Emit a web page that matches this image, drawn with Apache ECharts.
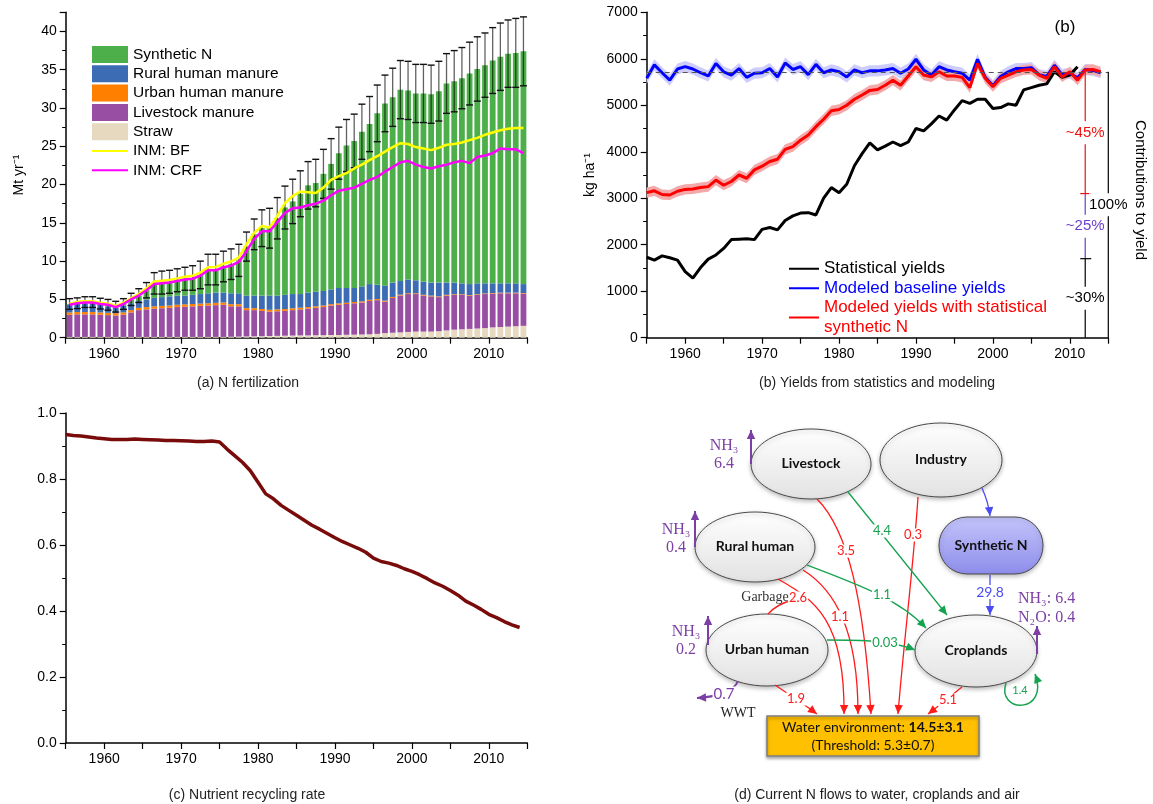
<!DOCTYPE html>
<html>
<head>
<meta charset="utf-8">
<script src="https://cdn.jsdelivr.net/npm/echarts@6/dist/echarts.min.js"></script>
<style>
html, body { margin: 0; padding: 0; background: #fff; }
#chart { width: 1153px; height: 804px; }
</style>
</head>
<body>
<div id="chart"></div>
<script>
// ---- data ----
const years = [];
for (let y = 1955; y <= 2014; y++) years.push(String(y));
const yieldYears = years.concat(['2015']);

// (a) N fertilization, Mt/yr, stacked from the bottom
const straw = [0.1,0.1,0.1,0.1,0.1,0.1,0.1,0.1,0.1,0.1,
  0.1,0.1,0.1,0.1,0.1,0.1,0.1,0.1,0.1,0.1,
  0.1,0.12,0.14,0.16,0.18,0.2,0.22,0.24,0.26,0.28,
  0.3,0.3,0.32,0.33,0.35,0.35,0.38,0.4,0.42,0.45,
  0.5,0.6,0.65,0.7,0.75,0.8,0.8,0.8,0.85,0.95,
  1.05,1.1,1.15,1.2,1.25,1.35,1.4,1.45,1.5,1.55];
const livestock = [2.9,2.95,2.95,2.95,2.9,2.85,2.8,2.9,3.2,3.5,
  3.6,3.7,3.75,3.8,3.9,3.95,4.0,4.05,4.1,4.15,
  4.2,3.98,3.96,3.44,3.42,3.3,3.18,3.21,3.24,3.32,
  3.4,3.5,3.58,3.67,3.85,3.95,4.02,4.1,4.18,4.35,
  4.4,4.1,4.55,4.8,4.95,4.9,4.7,4.6,4.45,4.55,
  4.55,4.5,4.35,4.4,4.45,4.4,4.4,4.35,4.3,4.2];
const urban = [0.3,0.3,0.3,0.3,0.3,0.3,0.3,0.3,0.3,0.3,
  0.3,0.3,0.3,0.3,0.3,0.3,0.3,0.3,0.3,0.3,
  0.3,0.28,0.28,0.26,0.26,0.25,0.25,0.25,0.24,0.24,
  0.22,0.2,0.2,0.2,0.18,0.18,0.16,0.16,0.15,0.15,
  0.14,0.14,0.12,0.12,0.1,0.1,0.1,0.1,0.1,0.1,
  0.08,0.08,0.08,0.08,0.08,0.08,0.08,0.08,0.08,0.08];
const rural = [1.0,1.05,1.15,1.15,1.0,0.85,0.7,0.9,0.9,0.9,
  1.0,1.1,1.15,1.2,1.2,1.15,1.2,1.25,1.3,1.35,
  1.3,1.42,1.42,1.64,1.64,1.75,1.85,1.8,1.86,1.86,
  1.78,1.9,1.9,1.9,1.92,2.02,1.94,1.84,1.95,2.05,
  1.86,1.96,1.88,1.78,1.8,1.7,1.7,1.7,1.8,1.6,
  1.52,1.42,1.42,1.42,1.32,1.27,1.22,1.22,1.22,1.17];
const synthetic = [0.1,0.1,0.15,0.15,0.15,0.2,0.15,0.2,0.5,0.7,
  1.2,1.9,1.9,1.9,2.0,2.2,2.2,2.5,3.1,3.0,
  3.4,3.8,4.3,6.4,8.0,8.8,8.8,10.1,11.4,12.1,
  13.1,14.0,14.2,15.3,16.4,17.6,18.6,19.2,20.2,20.9,
  22.4,23.8,24.2,25.0,24.7,24.4,24.6,24.6,25.0,26.0,
  26.3,26.8,27.5,28.0,28.5,29.1,29.6,30.0,30.1,30.4];
const fertErr = [0.7,0.7,0.7,0.7,0.7,0.7,0.7,0.7,0.8,0.9,
  1.0,1.4,1.5,1.5,1.5,1.5,1.6,1.8,2.0,2.0,
  2.0,2.0,2.1,1.9,2.0,2.4,2.6,2.7,2.8,2.9,
  3.0,3.1,3.1,3.2,3.3,3.4,3.4,3.5,3.6,3.6,
  3.7,3.7,3.8,3.8,3.8,3.8,3.8,3.8,3.9,3.9,
  4.0,4.0,4.1,4.2,4.2,4.3,4.4,4.4,4.5,4.5];
const inmBF = [4.45,4.65,4.75,4.75,4.55,4.45,4.15,4.55,5.15,5.7,
  6.45,7.35,7.45,7.55,7.75,7.95,8.1,8.5,9.2,9.25,
  9.65,9.95,10.5,12.2,13.7,14.6,14.4,15.9,17.6,18.5,
  19.1,19.0,18.9,19.6,20.6,21.1,21.5,22.1,22.6,23.2,
  23.7,24.3,24.9,25.4,25.3,24.9,24.7,24.5,24.8,25.2,
  25.3,25.5,25.8,26.1,26.5,26.8,27.1,27.3,27.4,27.4];
const inmCRF = [4.3,4.5,4.6,4.6,4.4,4.3,4.0,4.4,5.0,5.5,
  6.2,7.0,7.1,7.2,7.4,7.6,7.7,8.1,8.8,8.8,
  9.2,9.4,9.9,11.3,12.9,13.9,13.9,15.1,16.3,16.9,
  17.0,17.3,17.5,17.9,18.6,19.2,19.4,19.6,20.1,20.6,
  21.0,21.7,22.3,22.9,23.1,22.6,22.3,22.1,22.4,22.6,
  22.9,23.1,22.8,23.6,23.8,24.1,24.7,24.6,24.6,24.1];

// (b) yields, kg/ha
const statYield = [1730,1670,1760,1720,1670,1420,1280,1510,1690,1780,
  1920,2110,2120,2130,2110,2330,2370,2320,2520,2620,
  2680,2690,2640,3000,3230,3120,3300,3700,3960,4190,
  4040,4120,4210,4130,4210,4500,4450,4600,4770,4680,
  4900,5100,5040,5130,5130,4930,4950,5030,5000,5330,
  5380,5430,5460,5720,5600,5650,5830];
const baseYield = [5580,5870,5700,5540,5780,5830,5780,5700,5630,5900,
  5720,5650,5790,5600,5690,5700,5790,5610,5910,5770,
  5830,5660,5880,5700,5760,5720,5610,5760,5700,5740,
  5740,5760,5790,5690,5780,5990,5760,5650,5830,5760,
  5720,5690,5540,5990,5600,5420,5620,5720,5790,5790,
  5810,5660,5620,5860,5660,5690,5590,5770,5750,5700];
const nYield = [3120,3160,3080,3070,3150,3190,3200,3230,3250,3390,
  3280,3360,3500,3430,3610,3690,3790,3840,4050,4110,
  4250,4360,4540,4700,4880,4910,5000,5130,5220,5320,
  5340,5430,5540,5430,5630,5830,5650,5610,5720,5630,
  5630,5600,5380,5900,5580,5400,5580,5650,5720,5760,
  5770,5650,5580,5830,5610,5720,5540,5760,5770,5720];
const baseBand = 120;   // half width of the shaded range
const nBand = 110;
const potentialYield = 5720;
const contribSplits = [5720, 3100, 1700, 0];
const contribLabels = ['~45%', '~25%', '~30%'];
const contribYear = 2012;
const totalYear = 2015;

// (c) nutrient recycling rate
const recycling = [0.935,0.932,0.93,0.927,0.924,0.922,0.92,0.92,0.92,0.921,
  0.92,0.919,0.918,0.917,0.917,0.916,0.915,0.914,0.914,0.915,
  0.912,0.89,0.87,0.85,0.825,0.79,0.755,0.74,0.72,0.705,
  0.69,0.675,0.66,0.648,0.635,0.622,0.61,0.6,0.59,0.578,
  0.56,0.55,0.545,0.538,0.528,0.52,0.51,0.498,0.485,0.475,
  0.462,0.448,0.43,0.418,0.405,0.39,0.38,0.368,0.358,0.35];

// (d) N flows, Mt
const waterFlows = [3.5, 0.3, 2.6, 1.1, 1.9, 5.1]; // livestock, industry, garbage, rural, urban, croplands
const cropFlows = [4.4, 1.1, 0.03, 1.4];           // livestock, rural, urban, croplands recycling
const syntheticFlow = 29.8;
const nh3Loss = [6.4, 0.4, 0.2, 6.4];              // livestock, rural, urban, croplands
const n2oLoss = 0.4;
const wwtFlow = 0.7;
const waterLoad = '14.5±3.1';
const waterThreshold = '5.3±0.7';

// ---- chart ----
const FONT = "'Liberation Sans', Arial, sans-serif";
const SERIF = "'Liberation Serif', 'Times New Roman', serif";
const CAL = "Lato, 'Liberation Sans', sans-serif";

const total = years.map((y, i) => straw[i] + livestock[i] + urban[i] + rural[i] + synthetic[i]);

const axisLine = { lineStyle: { color: '#000', width: 1.5 } };
const axisTick = { length: 6, lineStyle: { color: '#000', width: 1.2 } };
const minorTick = { show: true, splitNumber: 2, length: 3.5, lineStyle: { color: '#000', width: 1 } };
const label14 = { color: '#000', fontSize: 14, fontFamily: FONT, margin: 9 };
const yearAxis = (grid) => ({
  type: 'value', gridIndex: grid, min: 1955, max: 2015, interval: 5,
  axisLine: axisLine, axisTick: axisTick, splitLine: { show: false },
  axisLabel: Object.assign({}, label14, { formatter: v => (v % 10 === 0 ? String(v) : '') })
});
// hidden category axes carry the stacked bars and bands
const hiddenCat = (grid, data, gap) => ({ type: 'category', gridIndex: grid, data: data, boundaryGap: gap, show: false });

const barSeries = (name, arr, color) => ({
  name: name, type: 'bar', xAxisIndex: 3, yAxisIndex: 0, stack: 'fert', barWidth: 5.8,
  itemStyle: { color: color }, data: arr, z: 2
});

const band = (vals, half, color) => [
  { type: 'line', xAxisIndex: 4, yAxisIndex: 1, stack: color, symbol: 'none', silent: true, z: 1,
    lineStyle: { opacity: 0 }, data: vals.map(v => v - half) },
  { type: 'line', xAxisIndex: 4, yAxisIndex: 1, stack: color, symbol: 'none', silent: true, z: 1,
    lineStyle: { opacity: 0 }, areaStyle: { color: color, opacity: 1 }, data: vals.map(() => 2 * half) }
];

const RED = '#ff1a1a', GREEN = '#16a34f', BLUE = '#4b4bf2', PURPLE = '#7b3fa6';

// ---- diagram (d) helpers ----
function arrowHead(x, y, fx, fy, color, len, half) {
  len = len || 9; half = half || 4.2;
  const dx = x - fx, dy = y - fy, d = Math.hypot(dx, dy) || 1;
  const ux = dx / d, uy = dy / d, bx = x - ux * len, by = y - uy * len;
  return { type: 'polygon', z: 5, shape: { points: [[x, y], [bx - uy * half, by + ux * half], [bx + uy * half, by - ux * half]] }, style: { fill: color } };
}
function curve(p, color, width, arrow) {
  const out = [{ type: 'bezierCurve', z: 3, shape: { x1: p[0], y1: p[1], cpx1: p[2], cpy1: p[3], cpx2: p[4], cpy2: p[5], x2: p[6], y2: p[7] },
    style: { stroke: color, lineWidth: width || 1.3, fill: null } }];
  if (arrow !== false) out.push(arrowHead(p[6], p[7], p[4], p[5], color));
  return out;
}
function flowText(x, y, text, color, size) {
  return { type: 'text', x: x, y: y, z: 6, style: { text: text, fill: color, font: (size || 13) + 'px ' + CAL,
    align: 'center', verticalAlign: 'middle', backgroundColor: '#fff', padding: [0, 1] } };
}
function plainText(x, y, text, color, font, align) {
  return { type: 'text', x: x, y: y, z: 6, style: { text: text, fill: color, font: font, align: align || 'center', verticalAlign: 'middle' } };
}
const nodeFill = new echarts.graphic.LinearGradient(0, 0, 0, 1, [{ offset: 0, color: '#ffffff' }, { offset: 1, color: '#e2e2e2' }]);
function ellipseNode(n, text) {
  return [{ type: 'ellipse', z: 2, shape: { cx: n.cx, cy: n.cy, rx: n.rx, ry: n.ry },
      style: { fill: nodeFill, stroke: '#4a4a4a', lineWidth: 1, shadowBlur: 4, shadowOffsetY: 2, shadowColor: 'rgba(0,0,0,0.25)' } },
    plainText(n.cx, n.cy - 1, text, '#111', 'bold 14px ' + CAL)];
}

const nodes = {
  livestock: { cx: 811, cy: 464, rx: 60, ry: 35 },
  industry: { cx: 941, cy: 460, rx: 61, ry: 37 },
  rural: { cx: 755, cy: 547, rx: 60, ry: 35 },
  urbanN: { cx: 767, cy: 650, rx: 61, ry: 36 },
  crop: { cx: 976, cy: 651, rx: 61, ry: 36 }
};
// bezier paths: x1,y1, cp1, cp2, x2,y2
const waterPaths = [
  [817, 499, 848, 530, 864, 600, 871, 714],
  [918, 497, 914, 560, 904, 640, 898, 714],
  [778, 579, 815, 600, 845, 620, 844, 714],
  [803, 570, 835, 590, 858, 630, 858, 714],
  [775, 685, 790, 695, 805, 705, 817, 714],
  [962, 687, 952, 695, 940, 705, 928, 714]
];
const waterLabelPos = [[846, 551], [913, 535], [798, 598], [840, 617], [796, 699], [948, 700]];
const cropPaths = [
  [848, 492, 880, 532, 915, 575, 947, 615],
  [807, 565, 860, 585, 900, 600, 926, 628],
  [827, 640, 860, 640, 890, 640, 915, 650]
];
const cropLabelPos = [[882, 531], [882, 595], [885, 643]];

const diagram = [];
diagram.push(...ellipseNode(nodes.livestock, 'Livestock'));
diagram.push(...ellipseNode(nodes.industry, 'Industry'));
diagram.push(...ellipseNode(nodes.rural, 'Rural human'));
diagram.push(...ellipseNode(nodes.urbanN, 'Urban human'));
diagram.push(...ellipseNode(nodes.crop, 'Croplands'));
diagram.push({ type: 'rect', z: 2, shape: { x: 939, y: 517, width: 104, height: 57, r: 28 },
  style: { fill: new echarts.graphic.LinearGradient(0, 0, 0, 1, [{ offset: 0, color: '#c4c4fb' }, { offset: 1, color: '#8d8deb' }]),
    stroke: '#4a4a4a', lineWidth: 1, shadowBlur: 4, shadowOffsetY: 2, shadowColor: 'rgba(0,0,0,0.25)' } });
diagram.push(plainText(991, 545, 'Synthetic N', '#111', 'bold 14px ' + CAL));
diagram.push({ type: 'rect', z: 2, shape: { x: 767, y: 716, width: 212, height: 40 },
  style: { fill: '#ffc000', stroke: '#7f7f7f', lineWidth: 1.5, shadowBlur: 3, shadowOffsetY: 2, shadowColor: 'rgba(0,0,0,0.3)' } });
diagram.push({ type: 'text', x: 873, y: 727, z: 6, style: { text: '{n|Water environment: }{b|' + waterLoad + '}', align: 'center', verticalAlign: 'middle',
  rich: { n: { font: '14px ' + CAL, fill: '#111' }, b: { font: 'bold 14px ' + CAL, fill: '#111' } } } });
diagram.push(plainText(873, 745, '(Threshold: ' + waterThreshold + ')', '#111', '14px ' + CAL));

waterPaths.forEach((p, i) => {
  diagram.push(...curve(p, RED));
  diagram.push(flowText(waterLabelPos[i][0], waterLabelPos[i][1], String(waterFlows[i]), RED));
});
diagram.push(...curve([768, 614, 775, 606, 785, 602, 793, 600], RED, 1.3, false));
cropPaths.forEach((p, i) => {
  diagram.push(...curve(p, GREEN));
  diagram.push(flowText(cropLabelPos[i][0], cropLabelPos[i][1], String(cropFlows[i]), GREEN));
});
diagram.push(...curve([1006, 683, 996, 714, 1050, 714, 1035, 674], GREEN, 1.5));
diagram.push(flowText(1020, 690, String(cropFlows[3]), GREEN, 11));
diagram.push(...curve([982, 488, 986, 497, 989, 506, 990, 516], BLUE));
diagram.push(...curve([990, 575, 990, 590, 990, 600, 990, 615], BLUE));
diagram.push(flowText(990, 592, String(syntheticFlow), BLUE, 14));

// emissions to air and wastewater
const nh3Pos = [[751, 464, 430, 724, 446], [695, 547, 511, 676, 530], [708, 645, 616, 686, 632]];
nh3Pos.forEach((q, i) => {
  diagram.push(...curve([q[0], q[1], q[0], q[1] - 10, q[0], q[2] + 10, q[0], q[2]], PURPLE, 2));
  diagram.push(plainText(q[3], q[4], 'NH\u2083', PURPLE, '16px ' + SERIF));
  diagram.push(plainText(q[3], q[4] + 18, String(nh3Loss[i]), PURPLE, '16px ' + SERIF));
});
diagram.push(...curve([1037, 654, 1037, 645, 1037, 636, 1037, 626], PURPLE, 2));
diagram.push(plainText(1018, 599, 'NH\u2083: ' + nh3Loss[3], PURPLE, '16px ' + SERIF, 'left'));
diagram.push(plainText(1018, 618, 'N\u2082O: ' + n2oLoss, PURPLE, '16px ' + SERIF, 'left'));
diagram.push(...curve([738, 681, 734, 692, 715, 697, 697, 698], PURPLE, 2));
diagram.push(flowText(724, 694, String(wwtFlow), PURPLE, 15));
diagram.push(plainText(738, 713, 'WWT', '#222', '14px ' + SERIF));
diagram.push(plainText(765, 597, 'Garbage', '#333', '14px ' + SERIF));

const captions = [
  plainText(248, 383, '(a) N fertilization', '#222', '14px ' + FONT),
  plainText(877, 383, '(b) Yields from statistics and modeling', '#222', '14px ' + FONT),
  plainText(247, 795, '(c) Nutrient recycling rate', '#222', '14px ' + FONT),
  plainText(877, 795, '(d) Current N flows to water, croplands and air', '#222', '14px ' + FONT),
  plainText(1065, 27, '(b)', '#000', '17px ' + FONT),
  { type: 'text', x: 1140, y: 190, rotation: -Math.PI / 2, style: { text: 'Contributions to yield', fill: '#000',
    font: '15px ' + FONT, align: 'center', verticalAlign: 'middle' } }
];

const lineLegend = { itemStyle: { opacity: 0 } };

const chart = echarts.init(document.getElementById('chart'));
const option = {
  animation: false,
  backgroundColor: '#fff',
  grid: [
    { left: 65.7, right: 625.7, top: 12.3, bottom: 466.3 },
    { left: 646.7, right: 44.7, top: 12.3, bottom: 466.3 },
    { left: 65.7, right: 625.7, top: 413, bottom: 61 }
  ],
  xAxis: [yearAxis(0), yearAxis(1), yearAxis(2), hiddenCat(0, years, true), hiddenCat(1, yieldYears, false)],
  yAxis: [
    { type: 'value', gridIndex: 0, min: 0, max: 42.5, interval: 5, axisLine: Object.assign({ show: true }, axisLine),
      axisTick: axisTick, minorTick: minorTick, splitLine: { show: false },
      axisLabel: Object.assign({}, label14, { formatter: v => (v % 5 === 0 ? String(v) : '') }),
      name: 'Mt yr\u207B\u00B9', nameLocation: 'middle', nameGap: 40, nameRotate: 90,
      nameTextStyle: { fontSize: 14, fontFamily: FONT, color: '#000' } },
    { type: 'value', gridIndex: 1, min: 0, max: 7000, interval: 1000, axisLine: Object.assign({ show: true }, axisLine),
      axisTick: axisTick, minorTick: minorTick, splitLine: { show: false },
      axisLabel: Object.assign({}, label14, { formatter: v => String(v) }),
      name: 'kg ha\u207B\u00B9', nameLocation: 'middle', nameGap: 50, nameRotate: 90,
      nameTextStyle: { fontSize: 14, fontFamily: FONT, color: '#000' } },
    { type: 'value', gridIndex: 2, min: 0, max: 1, interval: 0.2, axisLine: Object.assign({ show: true }, axisLine),
      axisTick: axisTick, minorTick: minorTick, splitLine: { show: false },
      axisLabel: Object.assign({}, label14, { formatter: v => v.toFixed(1) }) }
  ],
  legend: [
    { left: 86, top: 41, orient: 'vertical', itemWidth: 36, itemHeight: 17, itemGap: 2.3, selectedMode: false,
      textStyle: { fontSize: 15.5, fontFamily: FONT, color: '#000', lineHeight: 17 },
      data: [{ name: 'Synthetic N', icon: 'rect' }, { name: 'Rural human manure', icon: 'rect' },
        { name: 'Urban human manure', icon: 'rect' }, { name: 'Livestock manure', icon: 'rect' },
        { name: 'Straw', icon: 'rect' }, Object.assign({ name: 'INM: BF' }, lineLegend),
        Object.assign({ name: 'INM: CRF' }, lineLegend)] },
    { left: 783, top: 254, orient: 'vertical', itemWidth: 30, itemHeight: 14, itemGap: 0, selectedMode: false,
      textStyle: { fontSize: 17, fontFamily: FONT, lineHeight: 19.5 },
      data: [Object.assign({ name: 'Statistical yields', textStyle: { color: '#000' } }, lineLegend),
        Object.assign({ name: 'Modeled baseline yields', textStyle: { color: '#0000ff' } }, lineLegend),
        Object.assign({ name: 'Modeled yields with statistical\nsynthetic N', textStyle: { color: '#ff0000' } }, lineLegend)] }
  ],
  series: [
    barSeries('Straw', straw, '#e6d9c0'),
    barSeries('Livestock manure', livestock, '#984ea3'),
    barSeries('Urban human manure', urban, '#ff7f00'),
    barSeries('Rural human manure', rural, '#3b6cb4'),
    barSeries('Synthetic N', synthetic, '#4daf4a'),
    { type: 'custom', xAxisIndex: 3, yAxisIndex: 0, z: 3, silent: true,
      data: years.map((y, i) => [i, total[i], fertErr[i]]),
      renderItem: (params, api) => {
        const x = api.value(0), m = api.value(1), e = api.value(2);
        const t = api.coord([x, m + e]), b = api.coord([x, m - e]);
        return { type: 'group', children: [
          { type: 'line', shape: { x1: t[0], y1: t[1], x2: b[0], y2: b[1] }, style: { stroke: 'rgba(0,0,0,0.62)', lineWidth: 1.3 } },
          { type: 'line', shape: { x1: t[0] - 3.5, y1: t[1], x2: t[0] + 3.5, y2: t[1] }, style: { stroke: '#111', lineWidth: 1.4 } },
          { type: 'line', shape: { x1: b[0] - 3.5, y1: b[1], x2: b[0] + 3.5, y2: b[1] }, style: { stroke: '#111', lineWidth: 1.4 } }
        ] };
      } },
    { name: 'INM: BF', type: 'line', xAxisIndex: 3, yAxisIndex: 0, z: 4, symbol: 'none',
      lineStyle: { color: '#ffff00', width: 2.5 }, itemStyle: { color: '#ffff00' }, data: inmBF },
    { name: 'INM: CRF', type: 'line', xAxisIndex: 3, yAxisIndex: 0, z: 4, symbol: 'none',
      lineStyle: { color: '#ff00ff', width: 2.5 }, itemStyle: { color: '#ff00ff' }, data: inmCRF },

    ...band(baseYield, baseBand, '#cdcdfd'),
    ...band(nYield, nBand, '#f3a9a9'),
    { name: 'Statistical yields', type: 'line', xAxisIndex: 4, yAxisIndex: 1, z: 3, symbol: 'none',
      lineStyle: { color: '#000', width: 3 }, itemStyle: { color: '#000' }, data: statYield },
    { name: 'Modeled baseline yields', type: 'line', xAxisIndex: 4, yAxisIndex: 1, z: 3, symbol: 'none',
      lineStyle: { color: '#0000ff', width: 3 }, itemStyle: { color: '#0000ff' }, data: baseYield,
      markLine: { silent: true, symbol: 'none', label: { show: false },
        lineStyle: { type: [5, 4], color: '#555', width: 1.2 }, data: [{ yAxis: potentialYield }] } },
    { name: 'Modeled yields with statistical\nsynthetic N', type: 'line', xAxisIndex: 4, yAxisIndex: 1, z: 4, symbol: 'none',
      lineStyle: { color: '#ff0000', width: 3 }, itemStyle: { color: '#ff0000' }, data: nYield },
    { type: 'custom', xAxisIndex: 1, yAxisIndex: 1, z: 5, silent: true, clip: false, data: [[contribYear, 0]],
      renderItem: (params, api) => {
        const colors = ['#ee1111', '#6a3fd0', '#000'];
        const ch = [];
        for (let i = 0; i < 3; i++) {
          const a = api.coord([contribYear, contribSplits[i]]), b = api.coord([contribYear, contribSplits[i + 1]]);
          ch.push({ type: 'line', shape: { x1: a[0], y1: a[1], x2: b[0], y2: b[1] }, style: { stroke: colors[i], lineWidth: 1.2 } });
          ch.push({ type: 'text', z2: 10, x: a[0], y: (a[1] + b[1]) / 2, style: { text: contribLabels[i], fill: colors[i],
            font: '15px ' + FONT, align: 'center', verticalAlign: 'middle', backgroundColor: '#fff', padding: [4, 0] } });
          if (i > 0) ch.push({ type: 'line', shape: { x1: a[0] - 5, y1: a[1], x2: a[0] + 6, y2: a[1] }, style: { stroke: i === 1 ? colors[0] : colors[2], lineWidth: 1.2 } });
        }
        const t = api.coord([totalYear, contribSplits[0]]), bt = api.coord([totalYear, 0]);
        ch.push({ type: 'line', shape: { x1: t[0], y1: t[1], x2: bt[0], y2: bt[1] }, style: { stroke: '#000', lineWidth: 1.2 } });
        const midY = (t[1] + bt[1]) / 2;
        ch.push({ type: 'text', z2: 10, x: t[0], y: midY, style: { text: '100%', fill: '#000', font: '15px ' + FONT,
          align: 'center', verticalAlign: 'middle', backgroundColor: '#fff', padding: [4, 0] } });
        return { type: 'group', children: ch };
      } },

    { type: 'line', xAxisIndex: 2, yAxisIndex: 2, symbol: 'none', lineStyle: { color: '#7a0b0b', width: 3.5 },
      data: recycling.map((v, i) => [1955 + i, v]) }
  ],
  graphic: captions.concat(diagram)
};
chart.setOption(option);
</script>
</body>
</html>
